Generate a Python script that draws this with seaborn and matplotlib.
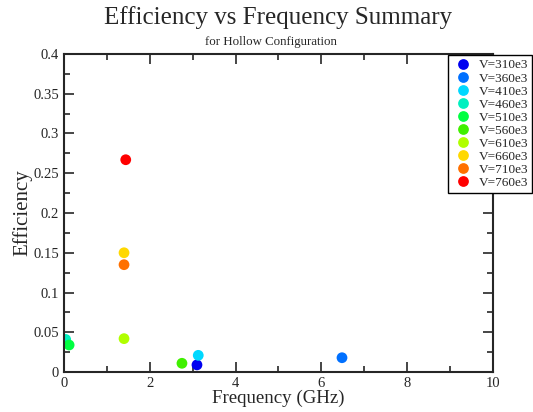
import matplotlib
matplotlib.use("Agg")
import matplotlib.pyplot as plt
import seaborn as sns
import pandas as pd

voltages = ["V=310e3", "V=360e3", "V=410e3", "V=460e3", "V=510e3",
            "V=560e3", "V=610e3", "V=660e3", "V=710e3", "V=760e3"]
frequency = [3.10, 6.48, 3.13, 0.04, 0.12, 2.75, 1.40, 1.40, 1.40, 1.44]
efficiency = [0.009, 0.018, 0.021, 0.041, 0.034, 0.011, 0.042, 0.150, 0.135, 0.267]
colors = ["#0000f0", "#0070ff", "#00d8ff", "#00f0c0", "#00ff40",
          "#40f000", "#b0ff00", "#ffd800", "#ff7000", "#ff0000"]

df = pd.DataFrame({"Voltage": voltages, "Frequency": frequency, "Efficiency": efficiency})

sns.set_style("ticks")
plt.rcParams["font.family"] = ["Liberation Serif", "DejaVu Serif"]

fig = plt.figure(figsize=(5.33, 4.12), dpi=100)
ax = fig.add_axes([0.120, 0.097, 0.805, 0.772])

sns.scatterplot(data=df, x="Frequency", y="Efficiency", hue="Voltage",
                palette=colors, hue_order=voltages, s=60, edgecolor="none",
                ax=ax, legend=True)

ax.set_xlim(0, 10)
ax.set_ylim(0, 0.4)
ax.set_xticks([0, 2, 4, 6, 8, 10])
ax.set_xticklabels(["0", "2", "4", "6", "8", "10"])
ax.set_xticks([1, 3, 5, 7, 9], minor=True)
ax.set_yticks([0, 0.05, 0.1, 0.15, 0.2, 0.25, 0.3, 0.35, 0.4])
ax.set_yticklabels(["0", "0.05", "0.1", "0.15", "0.2", "0.25", "0.3", "0.35", "0.4"])
ax.set_yticks([0.025 + 0.05 * i for i in range(8)], minor=True)
ax.tick_params(which="both", direction="in", top=True, right=True, labelsize=10.5, width=1.2)
ax.tick_params(which="major", length=7)
ax.tick_params(which="minor", length=4)
for sp in ax.spines.values():
    sp.set_linewidth(1.5)
    sp.set_visible(True)

ax.set_xlabel("Frequency (GHz)", fontsize=13.6, labelpad=0)
ax.set_ylabel("Efficiency", fontsize=15, labelpad=1)

fig.text(0.522, 0.958, "Efficiency vs Frequency Summary", ha="center", va="center", fontsize=18)
fig.text(0.509, 0.898, "for Hollow Configuration", ha="center", va="center", fontsize=9.3)

leg = ax.legend(loc="upper left", bbox_to_anchor=(0.893, 1.0), fontsize=9.5,
                frameon=True, fancybox=False, edgecolor="black", framealpha=1,
                handletextpad=0.4, labelspacing=0.06, borderpad=0.3,
                handlelength=1.6, borderaxespad=0.1, markerscale=1.0)
leg.get_frame().set_linewidth(1.0)

fig.savefig("out.png", dpi=100)
